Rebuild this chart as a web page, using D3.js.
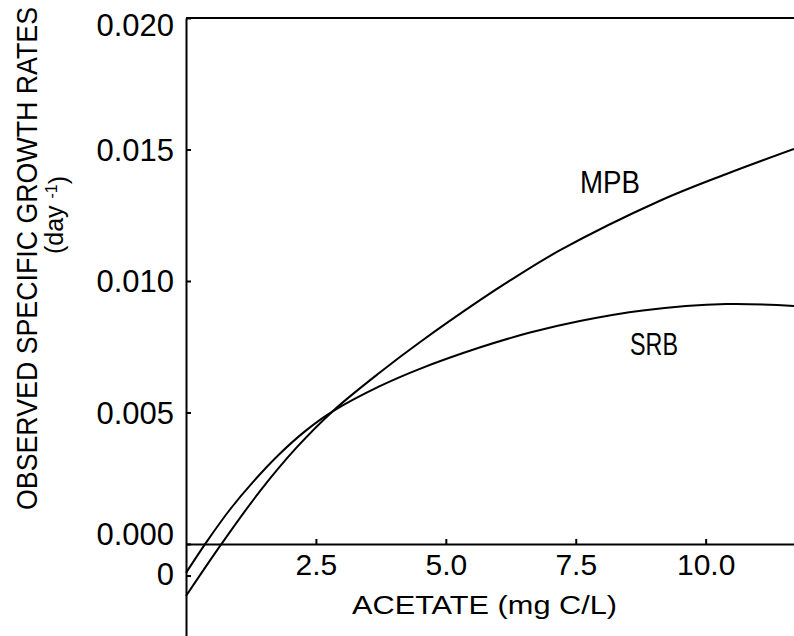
<!DOCTYPE html>
<html>
<head>
<meta charset="utf-8">
<script src="https://cdn.jsdelivr.net/npm/d3@7"></script>
<style>
  body { margin: 0; background: #fff; }
  text { font-family: "Liberation Sans", Arial, sans-serif; fill: #000; }
</style>
</head>
<body>
<svg id="chart" width="794" height="636"></svg>
<script>
// acetate (mg C/L) vs observed specific growth rate (day^-1)
const srbX = [0, 0.4, 0.85, 1.3, 1.8, 2.3, 2.83, 3.73, 4.5, 5.65, 6.62, 7.58, 8.79, 10.4, 11.7];
const srbY = [-0.0011, 0.00009, 0.00132, 0.00238, 0.00342, 0.0043, 0.00505, 0.006, 0.00666, 0.00747, 0.00804, 0.00848, 0.00888, 0.00912, 0.00905];
const mpbX = [0, 0.69, 1.42, 2.13, 2.83, 3.73, 4.5, 5.65, 6.23, 7.19, 9.12, 10.4, 11.7];
const mpbY = [-0.00198, 0.00002, 0.002, 0.00367, 0.00506, 0.00652, 0.00767, 0.00926, 0.01001, 0.01116, 0.01305, 0.01407, 0.01502];

const xTicks = [2.5, 5.0, 7.5, 10.0];
const yTicks = [0.000, 0.005, 0.010, 0.015, 0.020];
const extraYTick = { value: -0.00122, label: "0" };

const svg = d3.select("#chart");

const x = d3.scaleLinear().domain([0, 11.7]).range([186, 794]);
const y = d3.scaleLinear().domain([-0.0035, 0.020]).range([636, 18]);

// frame top line
svg.append("line")
  .attr("x1", x(0)).attr("x2", 794)
  .attr("y1", y(0.02)).attr("y2", y(0.02))
  .attr("stroke", "#000").attr("stroke-width", 2);

// x axis sits on y = 0
const xAxis = svg.append("g")
  .attr("transform", "translate(0," + y(0) + ")")
  .call(d3.axisBottom(x)
    .tickValues(xTicks)
    .tickFormat(d3.format(".1f"))
    .tickSize(-5)
    .tickSizeOuter(0)
    .tickPadding(10));
xAxis.select(".domain").attr("stroke-width", 2);
xAxis.selectAll("text").style("font-size", "30px").attr("font-family", null);
xAxis.selectAll("line").attr("stroke-width", 2);

const yAxis = svg.append("g")
  .attr("transform", "translate(" + x(0) + ",0)")
  .call(d3.axisLeft(y)
    .tickValues(yTicks)
    .tickFormat(d3.format(".3f"))
    .tickSize(-5)
    .tickSizeOuter(0)
    .tickPadding(12));
yAxis.select(".domain").attr("stroke-width", 2);
yAxis.selectAll("line").attr("stroke-width", 2);
yAxis.selectAll("text")
  .style("font-size", "31px").attr("font-family", null)
  .attr("dy", d => d === 0 ? "0.02em" : d === 0.02 ? "0.55em" : "0.35em");

// odd "0" tick below the origin
svg.append("line")
  .attr("x1", x(0)).attr("x2", x(0) + 5)
  .attr("y1", y(extraYTick.value)).attr("y2", y(extraYTick.value))
  .attr("stroke", "#000").attr("stroke-width", 2);
svg.append("text")
  .attr("x", x(0) - 12).attr("y", y(extraYTick.value))
  .attr("dy", "0.3em")
  .attr("text-anchor", "end")
  .style("font-size", "31px")
  .text(extraYTick.label);

const line = d3.line()
  .x(d => x(d[0]))
  .y(d => y(d[1]))
  .curve(d3.curveCatmullRom);

const series = [
  { name: "SRB", pts: d3.zip(srbX, srbY) },
  { name: "MPB", pts: d3.zip(mpbX, mpbY) }
];

svg.selectAll("path.curve")
  .data(series)
  .join("path")
  .attr("class", "curve")
  .attr("d", d => line(d.pts))
  .attr("fill", "none")
  .attr("stroke", "#000")
  .attr("stroke-width", 2);

// curve labels
svg.append("text").attr("x", 580).attr("y", 193)
  .style("font-size", "31px")
  .attr("textLength", 60).attr("lengthAdjust", "spacingAndGlyphs")
  .text("MPB");
svg.append("text").attr("x", 630).attr("y", 355)
  .style("font-size", "31px")
  .attr("textLength", 48).attr("lengthAdjust", "spacingAndGlyphs")
  .text("SRB");

// axis titles
svg.append("text")
  .attr("x", 352).attr("y", 614)
  .style("font-size", "26px")
  .attr("textLength", 265).attr("lengthAdjust", "spacingAndGlyphs")
  .text("ACETATE (mg C/L)");

svg.append("text")
  .attr("transform", "translate(37,510) rotate(-90)")
  .style("font-size", "30px")
  .attr("textLength", 503).attr("lengthAdjust", "spacingAndGlyphs")
  .text("OBSERVED SPECIFIC GROWTH RATES");

const unit = svg.append("text")
  .attr("transform", "translate(63,215) rotate(-90)")
  .attr("text-anchor", "middle")
  .style("font-size", "25px");
unit.append("tspan").text("(day ");
unit.append("tspan").attr("dy", "-0.4em").style("font-size", "16px").text("-1");
unit.append("tspan").attr("dy", "0.4em").text(")");
</script>
</body>
</html>
